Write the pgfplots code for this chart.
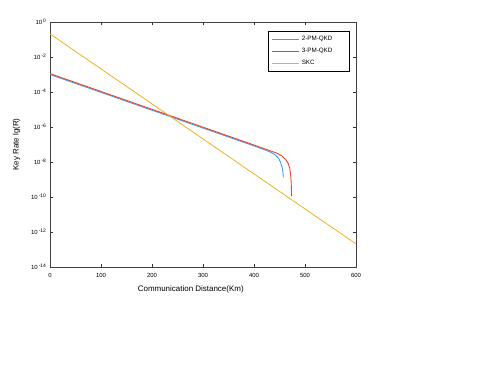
\documentclass[border=0pt]{standalone}
\usepackage{fontspec}
\setmainfont{Liberation Sans}
\usepackage{pgfplots}
\pgfplotsset{compat=1.18}
\pgfplotsset{legend image code/.code={\draw[#1] (0bp,0bp) -- (27bp,0bp);}}

\definecolor{qkdtwo}{RGB}{70,150,250}
\definecolor{qkdthree}{RGB}{225,70,40}
\definecolor{skc}{RGB}{237,177,32}

\begin{document}
\begin{tikzpicture}
\path[use as bounding box] (0,0) rectangle (493bp,374bp);
\begin{axis}[
  at={(50bp,107bp)}, anchor=south west,
  scale only axis, width=306bp, height=245bp,
  ymode=log, xmin=0, xmax=600, ymin=1e-14, ymax=1,
  xtick={0,100,...,600},
  ytick={1e-14,1e-12,1e-10,1e-8,1e-6,1e-4,1e-2,1},
  yticklabels={10\,\textsuperscript{-14},10\,\textsuperscript{-12},10\,\textsuperscript{-10},10\,\textsuperscript{-8},10\,\textsuperscript{-6},10\,\textsuperscript{-4},10\,\textsuperscript{-2},10\,\textsuperscript{0}},
  yminorticks=false, xminorticks=false,
  /pgf/number format/assume math mode=true,
  tick label style={font=\fontsize{6}{7}\selectfont},
  xticklabel style={yshift=-2.5bp},
  tick style={black!80, line width=0.6pt}, major tick length=3bp,
  axis line style={black!75, line width=0.8pt},
  label style={font=\fontsize{8}{9}\selectfont},
  xlabel={Communication Distance(Km)},
  xlabel style={at={(axis description cs:0.46,0)}, anchor=north, yshift=-15bp},
  ylabel={Key Rate lg(R)},
  ylabel style={yshift=4bp},
  legend style={at={(0.977,0.963)}, anchor=north east,
    font=\fontsize{6.3}{7}\selectfont, row sep=2.2bp, inner sep=3bp},
  legend cell align=left,
  legend image post style={line width=1.2pt},
]
\addplot[color=qkdtwo, line width=0.9pt] coordinates {
(0,1.0e-3) (100,9.55e-5) (200,9.12e-6) (300,8.71e-7) (400,8.318e-8)
(420,5.129e-8) (432,3.715e-8) (442,2.512e-8) (448,1.660e-8) (452,1.0e-8)
(455,5.012e-9) (456.8,2.512e-9) (457.5,1.318e-9) };
\addlegendentry{\makebox[42bp][l]{2-PM-QKD}}
\addplot[color=qkdthree, line width=0.9pt] coordinates {
(0,1.122e-3) (100,1.072e-4) (200,1.023e-5) (300,9.772e-7) (400,9.333e-8)
(430,4.571e-8) (445,3.162e-8) (455,2.188e-8) (462,1.380e-8) (467,8.318e-9)
(470,4.467e-9) (472,1.778e-9) (473,6.310e-10) (473.8,1.122e-10) };
\addlegendentry{\makebox[42bp][l]{3-PM-QKD}}
\addplot[color=skc, line width=0.8pt] coordinates { (0,0.2089) (600,2.089e-13) };
\addlegendentry{\makebox[42bp][l]{SKC}}
\end{axis}
\end{tikzpicture}
\end{document}
